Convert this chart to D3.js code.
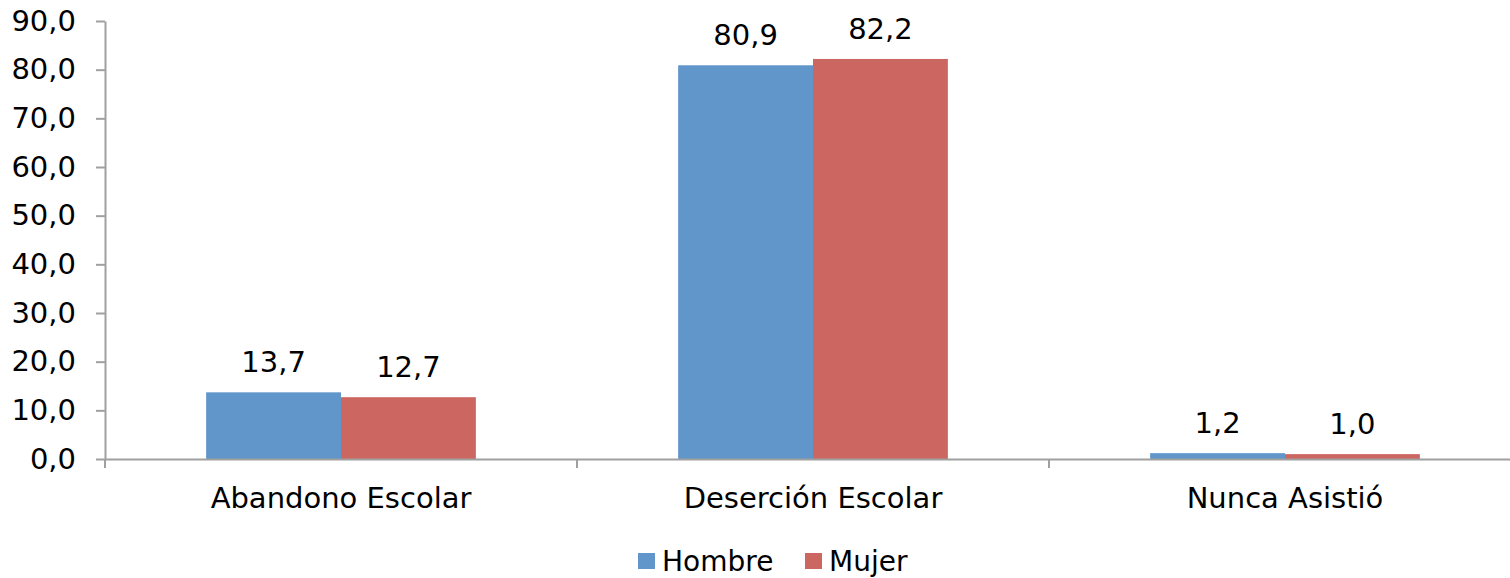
<!DOCTYPE html>
<html lang="es">
<head>
<meta charset="UTF-8">
<title>Abandono / Deserción escolar</title>
<script src="https://d3js.org/d3.v7.min.js"></script>
<style>
  body { margin: 0; background: #fff; }
  text { font-family: Verdana, "DejaVu Sans", sans-serif; fill: #000; }
</style>
</head>
<body>
<div id="chart"></div>
<script>
const categories = ["Abandono Escolar", "Deserción Escolar", "Nunca Asistió"];
const series = ["Hombre", "Mujer"];
const hombre = [13.7, 80.9, 1.2];
const mujer = [12.7, 82.2, 1.0];
const yTicks = [0, 10, 20, 30, 40, 50, 60, 70, 80, 90];
const colors = ["#6096c9", "#cc6660"];

const width = 1510, height = 578;
const margin = { top: 21, right: -11, bottom: 119, left: 105 };
const fs = "29px";
const fmt = v => v.toFixed(1).replace(".", ",");

const svg = d3.select("#chart").append("svg")
    .attr("width", width)
    .attr("height", height);

const x = d3.scaleBand()
    .domain(categories)
    .range([margin.left, width - margin.right])
    .paddingInner(0)
    .paddingOuter(0);

const inner = d3.scaleBand()
    .domain(series)
    .range([0, x.bandwidth()])
    .paddingOuter(0.75)
    .paddingInner(0);

const y = d3.scaleLinear()
    .domain([0, 90])
    .range([height - margin.bottom, margin.top]);

// y axis
const yAxis = svg.append("g")
    .attr("transform", "translate(" + margin.left + ",0)")
    .call(d3.axisLeft(y).tickValues(yTicks).tickFormat(fmt).tickSize(9).tickPadding(20).tickSizeOuter(0));
yAxis.select(".domain").attr("stroke", "#a0a0a0").attr("stroke-width", 2);
yAxis.selectAll(".tick line").attr("stroke", "#a0a0a0").attr("stroke-width", 2);
yAxis.selectAll(".tick text").style("font-size", fs);

// bars
const rows = categories.map((c, i) => ({ cat: c, vals: [hombre[i], mujer[i]] }));
const groups = svg.selectAll(".cat")
    .data(rows)
    .enter().append("g")
    .attr("transform", d => "translate(" + x(d.cat) + ",0)");

groups.selectAll("rect")
    .data(d => d.vals.map((v, j) => ({ s: series[j], v: v, j: j })))
    .enter().append("rect")
    .attr("x", d => inner(d.s))
    .attr("width", inner.bandwidth())
    .attr("y", d => y(d.v))
    .attr("height", d => y(0) - y(d.v))
    .attr("fill", d => colors[d.j]);

groups.selectAll(".lbl")
    .data(d => d.vals.map((v, j) => ({ s: series[j], v: v })))
    .enter().append("text")
    .attr("class", "lbl")
    .attr("x", d => inner(d.s) + inner.bandwidth() / 2)
    .attr("y", d => y(d.v) - 20)
    .attr("text-anchor", "middle")
    .style("font-size", fs)
    .text(d => fmt(d.v));

// x axis
const xAxis = svg.append("g")
    .attr("transform", "translate(0," + y(0) + ")")
    .call(d3.axisBottom(x).tickSize(0).tickPadding(28));
xAxis.select(".domain").attr("stroke", "#a0a0a0").attr("stroke-width", 2);
xAxis.selectAll(".tick text").style("font-size", fs);

// category boundary ticks
svg.append("g").selectAll("line")
    .data(categories)
    .enter().append("line")
    .attr("x1", d => x(d))
    .attr("x2", d => x(d))
    .attr("y1", y(0))
    .attr("y2", y(0) + 9)
    .attr("stroke", "#a0a0a0")
    .attr("stroke-width", 2);

// legend
const legendX = [638, 805];
const legend = svg.append("g").selectAll("g")
    .data(series)
    .enter().append("g")
    .attr("transform", (d, i) => "translate(" + legendX[i] + ",553)");
legend.append("rect")
    .attr("width", 17).attr("height", 16)
    .attr("fill", (d, i) => colors[i]);
legend.append("text")
    .attr("x", 24).attr("y", 18)
    .style("font-size", "28px")
    .text(d => d);
</script>
</body>
</html>
